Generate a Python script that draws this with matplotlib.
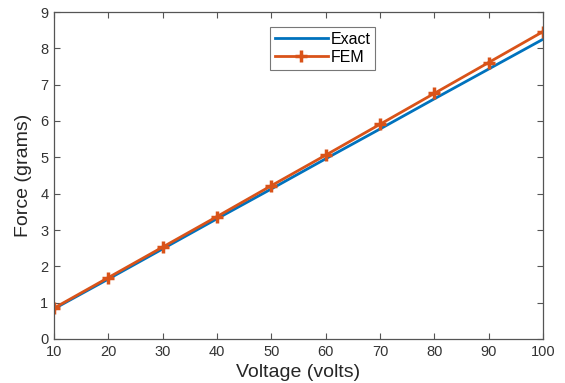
import numpy as np
import matplotlib
matplotlib.use("Agg")
import matplotlib.pyplot as plt

plt.rcParams['font.family'] = ['Liberation Sans', 'DejaVu Sans']

# donnees
voltage = [10, 20, 30, 40, 50, 60, 70, 80, 90, 100]
force_exact = [0.83, 1.65, 2.48, 3.31, 4.13, 4.96, 5.78, 6.61, 7.43, 8.25]
force_fem = [0.85, 1.69, 2.53, 3.37, 4.22, 5.06, 5.91, 6.76, 7.61, 8.46]

xticks = [10, 20, 30, 40, 50, 60, 70, 80, 90, 100]
yticks = [0, 1, 2, 3, 4, 5, 6, 7, 8, 9]

fig = plt.figure(figsize=(5.65, 3.83), dpi=100)
ax = fig.add_axes([54/565, 1 - 339/383, (543-54)/565, (339-12)/383])

ax.plot(voltage, force_exact, color='#0072BD', lw=2, label='Exact')
ax.plot(voltage, force_fem, color='#D95319', lw=2, marker='+', ms=8, mew=2.5,
        label='FEM')

ax.set_xlim(10, 100)
ax.set_ylim(0, 9)
ax.set_xticks(xticks)
ax.set_yticks(yticks)
ax.tick_params(direction='in', top=True, right=True, length=4, width=0.8,
               colors='#555555', labelsize=10.5, pad=4)
ax.tick_params(labelcolor='#333333')
for s in ax.spines.values():
    s.set_color('#555555')
    s.set_linewidth(0.9)

ax.set_xlabel('Voltage (volts)', fontsize=14, color='#262626', labelpad=4)
ax.set_ylabel('Force (grams)', fontsize=14, color='#262626', labelpad=6)

leg = ax.legend(loc='upper left', bbox_to_anchor=((270-54)/489, 1 - (27-12)/327),
                fontsize=11.5, frameon=True, fancybox=False, borderpad=0.3,
                handlelength=3.3, handletextpad=0.2, labelspacing=0.2,
                borderaxespad=0)
leg.get_frame().set_edgecolor('#555555')
leg.get_frame().set_linewidth(0.8)

fig.savefig('out.png', dpi=100)
